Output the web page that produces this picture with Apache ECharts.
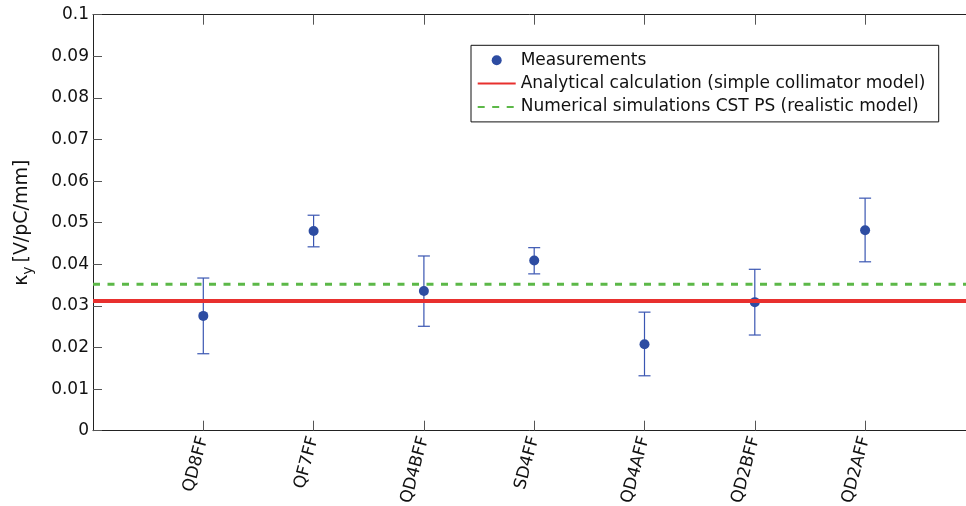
<!DOCTYPE html>
<html>
<head>
<meta charset="utf-8">
<script src="https://cdn.jsdelivr.net/npm/echarts@6/dist/echarts.min.js"></script>
<style>
  html, body { margin: 0; padding: 0; background: #fff; }
  #chart { width: 966px; height: 506px; }
</style>
</head>
<body>
<div id="chart"></div>
<script>
// Kicker factor per element (V/pC/mm).
const CATEGORIES = ['QD8FF', 'QF7FF', 'QD4BFF', 'SD4FF', 'QD4AFF', 'QD2BFF', 'QD2AFF'];
const MEASURED = [0.0276, 0.0480, 0.0336, 0.0409, 0.0208, 0.0309, 0.0482];
const ERR_LOW = [0.0185, 0.0442, 0.0251, 0.0377, 0.0132, 0.0230, 0.0406];
const ERR_HIGH = [0.0367, 0.0518, 0.0420, 0.0440, 0.0285, 0.0388, 0.0559];
const ANALYTICAL = 0.0312;
const NUMERICAL = 0.0352;
const Y_TICKS = { min: 0, max: 0.1, interval: 0.01 };

const FONT = 'DejaVu Sans';
const AXIS = '#222';
const BLUE = '#2d4ca2';
const BAR_BLUE = '#3a56b2';
const RED = '#e8302e';
const GREEN = '#5cb848';

// MATLAB-style axis: one empty slot either side of the named elements.
// The right-hand end runs past the canvas edge, as in the original figure.
const axisData = [''].concat(CATEGORIES, ['']);
const last = axisData.length - 1;

const chart = echarts.init(document.getElementById('chart'), null, { renderer: 'canvas' });

const xCommon = {
  type: 'category',
  data: axisData,
  boundaryGap: false,
  axisTick: {
    inside: true,
    length: 10,
    interval: (i, v) => v !== '',
    lineStyle: { color: '#555' },
  },
  splitLine: { show: false },
};

chart.setOption({
  animation: false,
  textStyle: { fontFamily: FONT },
  grid: {
    left: 93,
    top: 14.7,
    width: 882.4,
    height: 416,
    outerBoundsMode: 'none',
  },
  legend: {
    orient: 'vertical',
    left: 471,
    top: 45.3,
    padding: [6, 6, 6, 5.7],
    itemWidth: 38,
    itemHeight: 10,
    itemGap: 5.3,
    borderColor: '#111',
    borderWidth: 1,
    backgroundColor: '#fff',
    textStyle: { fontFamily: FONT, fontSize: 17, color: '#111', lineHeight: 18, width: 412 },
    data: [
      { name: 'Measurements', icon: 'circle' },
      { name: 'Analytical calculation (simple collimator model)', itemStyle: { opacity: 0 } },
      { name: 'Numerical simulations CST PS (realistic model)', itemStyle: { opacity: 0 } },
    ],
  },
  xAxis: [
    Object.assign({}, xCommon, {
      position: 'bottom',
      axisLine: { onZero: false, lineStyle: { color: AXIS, width: 1 } },
      axisLabel: { rotate: 75, margin: 6, fontFamily: FONT, fontSize: 17, color: '#111', interval: 0 },
    }),
    Object.assign({}, xCommon, {
      position: 'top',
      axisLine: { onZero: false, lineStyle: { color: AXIS, width: 1 } },
      axisLabel: { show: false },
    }),
  ],
  yAxis: {
    type: 'value',
    min: Y_TICKS.min,
    max: Y_TICKS.max,
    interval: Y_TICKS.interval,
    axisLine: { show: true, onZero: false, lineStyle: { color: AXIS, width: 1 } },
    axisTick: { show: true, inside: true, length: 9, lineStyle: { color: '#555' } },
    splitLine: { show: false },
    axisLabel: { margin: 4, fontFamily: FONT, fontSize: 17, color: '#111' },
    name: '{k|κ}{s|y} {t|[V/pC/mm]}',
    nameLocation: 'middle',
    nameGap: 58,
    nameTextStyle: {
      rich: {
        k: { fontFamily: FONT, fontSize: 19, color: '#111', lineHeight: 26, verticalAlign: 'middle' },
        s: { fontFamily: FONT, fontSize: 14, color: '#111', lineHeight: 12, verticalAlign: 'bottom' },
        t: { fontFamily: FONT, fontSize: 19, color: '#111', lineHeight: 26, verticalAlign: 'middle' },
      },
    },
  },
  series: [
    {
      name: 'errorbars',
      type: 'custom',
      z: 2,
      data: CATEGORIES.map((c, i) => [i + 1, ERR_LOW[i], ERR_HIGH[i]]),
      renderItem: (params, api) => {
        const lo = api.coord([api.value(0), api.value(1)]);
        const hi = api.coord([api.value(0), api.value(2)]);
        const cap = 6;
        const style = { stroke: BAR_BLUE, lineWidth: 1.2 };
        return {
          type: 'group',
          children: [
            { type: 'line', shape: { x1: lo[0], y1: lo[1], x2: hi[0], y2: hi[1] }, style },
            { type: 'line', shape: { x1: hi[0] - cap, y1: hi[1], x2: hi[0] + cap, y2: hi[1] }, style },
            { type: 'line', shape: { x1: lo[0] - cap, y1: lo[1], x2: lo[0] + cap, y2: lo[1] }, style },
          ],
        };
      },
    },
    {
      name: 'Measurements',
      type: 'scatter',
      z: 3,
      symbol: 'circle',
      symbolSize: 10,
      itemStyle: { color: BLUE, opacity: 1 },
      data: CATEGORIES.map((c, i) => [i + 1, MEASURED[i]]),
    },
    {
      name: 'Analytical calculation (simple collimator model)',
      type: 'line',
      z: 4,
      symbol: 'none',
      lineStyle: { color: RED, width: 4 },
      itemStyle: { color: RED },
      data: [[0, ANALYTICAL], [last, ANALYTICAL]],
    },
    {
      name: 'Numerical simulations CST PS (realistic model)',
      type: 'line',
      z: 4,
      symbol: 'none',
      lineStyle: { color: GREEN, width: 3, type: [7, 7.5] },
      itemStyle: { color: GREEN },
      data: [[0, NUMERICAL], [last, NUMERICAL]],
    },
  ],
});
</script>
</body>
</html>
